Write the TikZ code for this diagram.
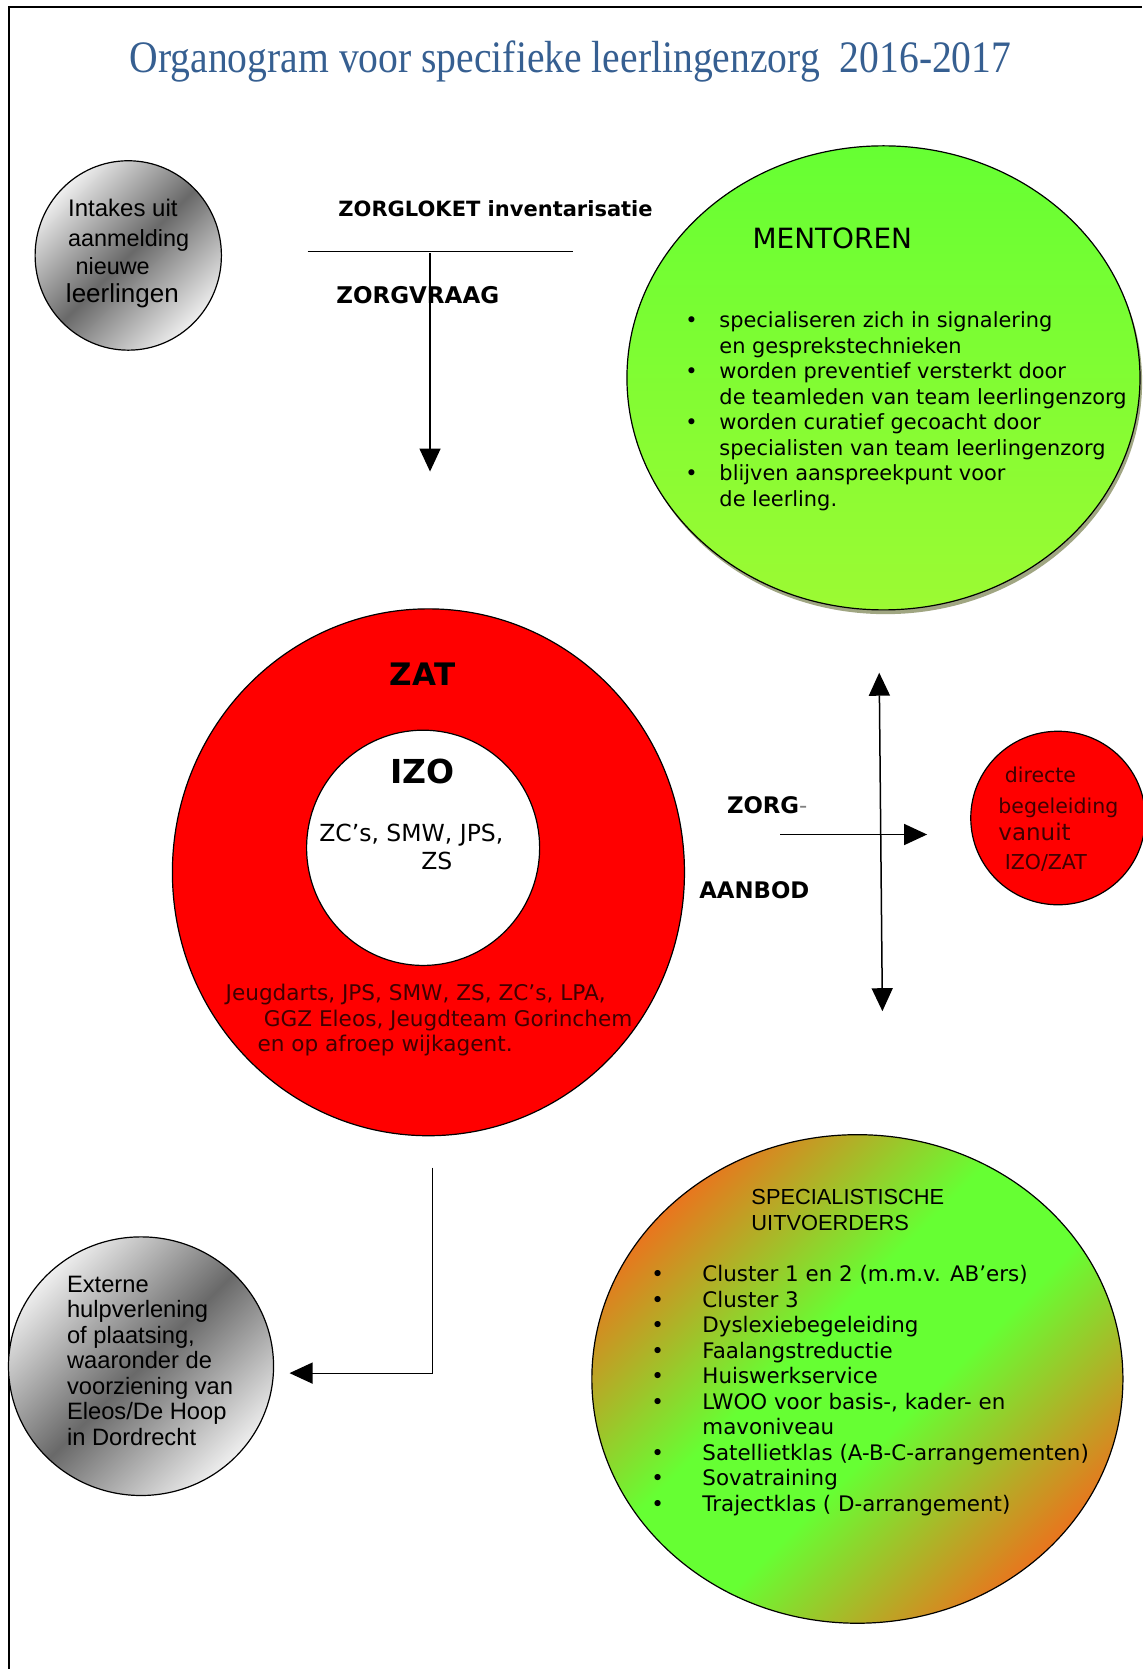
\documentclass[tikz,border=0pt]{standalone}
\usepackage{fontspec}
\usepackage{graphicx}
\setmainfont{DejaVu Sans}
\newfontfamily\arialf{Liberation Sans}
\newfontfamily\titlef{Liberation Serif}
\usetikzlibrary{arrows.meta,shapes.geometric}
\definecolor{titleblue}{RGB}{54,95,145}
\definecolor{gl}{RGB}{238,238,238}
\definecolor{gd}{RGB}{105,105,105}
\definecolor{so}{RGB}{232,118,30}
\definecolor{sg}{RGB}{102,255,51}
\definecolor{mtop}{RGB}{102,255,51}
\definecolor{mbot}{RGB}{156,250,51}
\definecolor{shadowc}{RGB}{160,166,130}
\definecolor{redtxt}{RGB}{64,0,0}
\pgfdeclarehorizontalshading{greyrefl}{100bp}{color(0bp)=(gl); color(25bp)=(gl); color(50bp)=(gd); color(75bp)=(gl); color(100bp)=(gl)}
\pgfdeclarehorizontalshading{orgreen}{100bp}{color(0bp)=(so); color(25bp)=(so); color(44bp)=(sg); color(56bp)=(sg); color(75bp)=(so); color(100bp)=(so)}
\newcommand\fsz[2]{\fontsize{#1}{#2}\selectfont}
\tikzset{
  txt/.style={inner sep=0pt, outer sep=0pt, anchor=base west},
  blob/.style={ellipse, inner sep=0pt, outer sep=0pt, draw=black, line width=1.2pt},
  arr/.style={line width=1.5pt, -{Triangle[width=21pt,length=23pt]}},
  darr/.style={line width=1.5pt, {Triangle[width=21pt,length=23pt]}-{Triangle[width=21pt,length=23pt]}},
}
\begin{document}
\begin{tikzpicture}[x=1.0643pt, y=-1.0643pt]
\useasboundingbox (0,0) rectangle (1073,1568);
% frame
\coordinate (f1) at (8,1568);
\coordinate (f2) at (8,7);
\coordinate (f3) at (1073,7);
\draw[line width=2pt] (f1) -- (f2) -- (f3);

% title
\node[anchor=base, inner sep=0pt, text=titleblue] (title) at (536,68)
  {\scalebox{0.88}[1]{\titlef\fsz{45}{50}Organogram voor specifieke leerlingenzorg\ \ 2016-2017}};

% Intakes
\node[blob, minimum width=186.3pt, minimum height=189.4pt, shading=greyrefl, shading angle=-45] (intake) at (120.5,240) {};
\node[txt, font=\arialf\fsz{24}{26}] (int1) at (64,203) {Intakes uit};
\node[txt, font=\arialf\fsz{23.4}{26}] (int2) at (64,232) {aanmelding};
\node[txt, font=\arialf\fsz{23.4}{26}] (int3) at (71,258) {nieuwe};
\node[txt, font=\arialf\fsz{26}{28}] (int4) at (62,284) {leerlingen};

% Zorgloket
\node[txt, font=\bfseries\fsz{21}{26}] (zorgloket) at (318,203) {ZORGLOKET inventarisatie};
\coordinate (zl1) at (289,236);
\coordinate (zl2) at (538,236);
\draw[line width=1.3pt] (zl1) -- (zl2);
\node[txt, font=\bfseries\fsz{23}{26}] (zorgvraag) at (316,285) {ZORGVRAAG};
\coordinate (va1) at (404,238);
\coordinate (va2) at (404,443);
\draw[arr] (va1) -- (va2);

% Mentoren
\node[ellipse, inner sep=0pt, minimum width=513pt, minimum height=464pt, fill=shadowc] (mshadow) at (832,359) {};
\node[blob, minimum width=513pt, minimum height=464pt, top color=mtop, bottom color=mbot] (mentoren) at (830,355) {};
\node[txt, font=\fsz{27.9}{30}] (mtitle) at (707,233) {MENTOREN};
\node[txt] (mlist) at (644,308) {\fsz{20.9}{25.5}\begin{tabular}[t]{@{}l@{}l@{}}
\makebox[34pt][l]{\textbullet} & specialiseren zich in signalering\\
 & en gesprekstechnieken\\
\makebox[34pt][l]{\textbullet} & worden preventief versterkt door\\
 & de teamleden van team leerlingenzorg\\
\makebox[34pt][l]{\textbullet} & worden curatief gecoacht door\\
 & specialisten van team leerlingenzorg\\
\makebox[34pt][l]{\textbullet} & blijven aanspreekpunt voor\\
 & de leerling.
\end{tabular}};

% ZAT / IZO
\node[blob, minimum width=512pt, minimum height=526.8pt, fill=red] (zat) at (402.5,819.5) {};
\node[blob, minimum width=233pt, minimum height=235.2pt, fill=white] (izo) at (397.5,796.5) {};
\node[anchor=base, inner sep=0pt, font=\bfseries\fsz{31}{34}] (zattitle) at (397,644) {ZAT};
\node[anchor=base, inner sep=0pt, font=\bfseries\fsz{33}{36}] (izotitle) at (397,736) {IZO};
\node[txt] (izotext) at (300,791) {\fsz{23.5}{27.7}\begin{tabular}[t]{@{}l@{}}
ZC’s, SMW, JPS,\\
\hspace{102pt}ZS
\end{tabular}};
\node[txt, text=redtxt] (zattext) at (212,940) {\fsz{21.6}{25.5}\begin{tabular}[t]{@{}l@{}}
Jeugdarts, JPS, SMW, ZS, ZC’s, LPA,\\
\hspace{38.3pt}GGZ Eleos, Jeugdteam Gorinchem\\
\hspace{31.9pt}en op afroep wijkagent.
\end{tabular}};

% Zorg-aanbod
\node[txt, font=\fsz{22.8}{26}] (zorg) at (683,764) {\textbf{ZORG}{\color{gray}-}};
\node[txt, font=\bfseries\fsz{22.8}{26}] (aanbod) at (657,844) {AANBOD};
\coordinate (ha1) at (733,784);
\coordinate (ha2) at (871,784);
\draw[arr] (ha1) -- (ha2);
\coordinate (vd1) at (826,632);
\coordinate (vd2) at (829,950);
\draw[darr] (vd1) -- (vd2);

% directe begeleiding
\node[blob, minimum width=174.5pt, minimum height=173.5pt, fill=red] (directe) at (994,768.5) {};
\node[txt, text=redtxt, font=\fsz{20.5}{24}] (dir1) at (944,735) {directe};
\node[txt, text=redtxt, font=\fsz{20.5}{24}] (dir2) at (938,764) {begeleiding};
\node[txt, text=redtxt, font=\fsz{23}{26}] (dir3) at (938,790) {vanuit};
\node[txt, text=redtxt, font=\fsz{20.5}{24}] (dir4) at (944,817) {IZO/ZAT};

% Externe
\node[blob, minimum width=265pt, minimum height=258.6pt, shading=greyrefl, shading angle=-45] (externe) at (132.5,1283.5) {};
\node[txt] (exttext) at (63,1214) {\arialf\fsz{23.7}{25.5}\begin{tabular}[t]{@{}l@{}}
Externe\\
hulpverlening\\
of plaatsing,\\
waaronder de\\
voorziening van\\
Eleos/De Hoop\\
in Dordrecht
\end{tabular}};
\coordinate (ze1) at (406,1097);
\coordinate (ze2) at (272,1290);
\draw[line width=1.2pt, -{Triangle[width=21pt,length=23pt]}] (ze1) |- (ze2);

% Specialistische uitvoerders
\node[blob, minimum width=531pt, minimum height=488.5pt, shading=orgreen, shading angle=-45] (spec) at (805.5,1295.5) {};
\node[txt] (spectitle) at (706,1132) {\arialf\fsz{21.8}{25.5}\begin{tabular}[t]{@{}l@{}}
SPECIALISTISCHE\\
UITVOERDERS
\end{tabular}};
\node[txt] (speclist) at (612,1204) {\fsz{21.4}{25.5}\begin{tabular}[t]{@{}l@{}l@{}}
\makebox[51pt][l]{\textbullet} & Cluster 1 en 2 (m.m.v. AB’ers)\\
\makebox[51pt][l]{\textbullet} & Cluster 3\\
\makebox[51pt][l]{\textbullet} & Dyslexiebegeleiding\\
\makebox[51pt][l]{\textbullet} & Faalangstreductie\\
\makebox[51pt][l]{\textbullet} & Huiswerkservice\\
\makebox[51pt][l]{\textbullet} & LWOO voor basis-, kader- en\\
 & mavoniveau\\
\makebox[51pt][l]{\textbullet} & Satellietklas (A-B-C-arrangementen)\\
\makebox[51pt][l]{\textbullet} & Sovatraining\\
\makebox[51pt][l]{\textbullet} & Trajectklas ( D-arrangement)
\end{tabular}};
\end{tikzpicture}
\end{document}
